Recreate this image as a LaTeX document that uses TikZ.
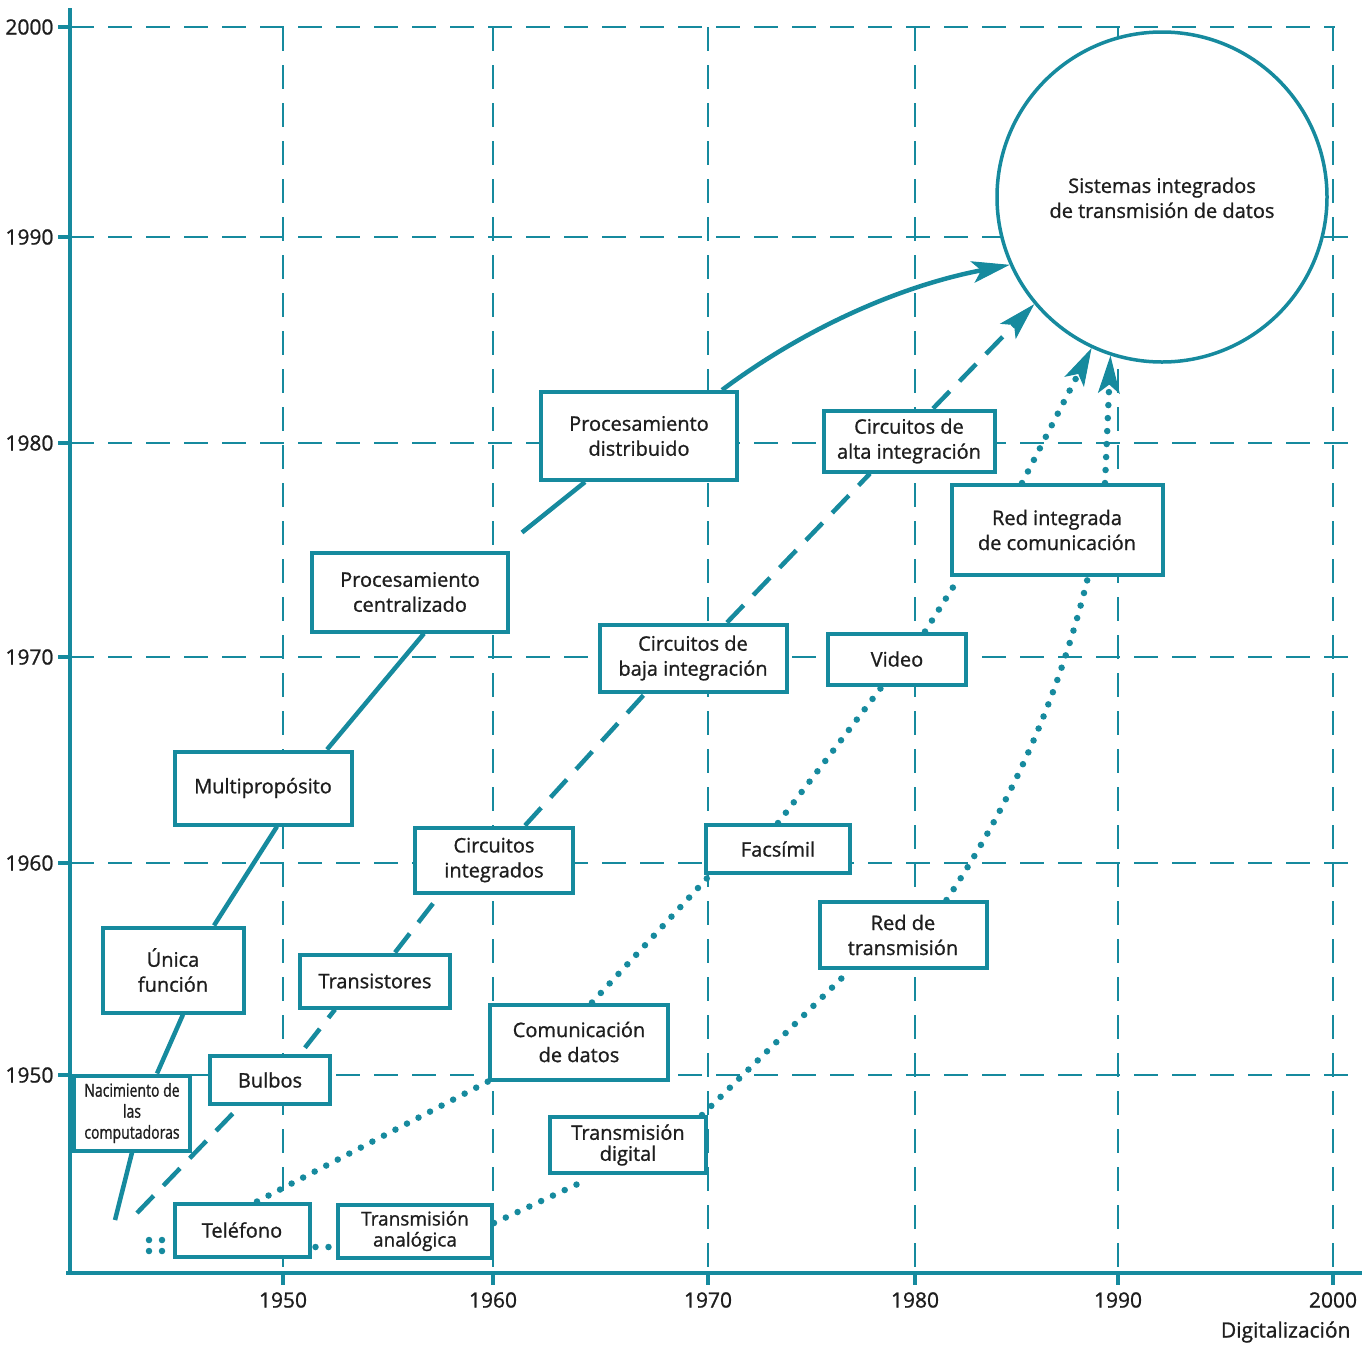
\documentclass[tikz,border=0pt]{standalone}
\usepackage{fontspec}
\setmainfont{Open Sans}[FakeBold=1]
\newfontfamily\narrowfont[FakeStretch=0.78, FakeBold=1]{Open Sans}
\usetikzlibrary{arrows.meta}
\definecolor{chartline}{RGB}{22,138,158}
\definecolor{chartink}{RGB}{30,30,30}

\begin{document}
\begin{tikzpicture}[x=1pt, y=-1pt]
    \tikzstyle{every node} = [align=center, text=chartink, font=\fontsize{20}{25}\selectfont]
    \tikzstyle{box} = [draw=chartline, line width=4pt, fill=white, inner sep=0pt]
    \tikzstyle{grid line} = [chartline, line width=2.8pt, dash pattern=on 24pt off 14pt]
    \tikzstyle{axis} = [chartline, line width=4pt]
    \tikzstyle{computer} = [chartline, line width=4.5pt]
    \tikzstyle{circuit} = [chartline, line width=4.5pt, dash pattern=on 24pt off 14pt]
    \tikzstyle{comm} = [chartline, line width=6.5pt, line cap=round, dash pattern=on 0pt off 13pt]
    \tikzstyle{tip} = [-{Stealth[length=38pt, width=22pt, inset=9pt, line width=1pt]}]
    \tikzstyle{year} = [font=\fontsize{21}{24}\selectfont]

    \useasboundingbox (0,0) rectangle (1365,1345);

    \foreach \yr/\xx/\yy/\xend in {1950/283/1075/1360, 1960/493/863/1360, 1970/708/657/1360,
                                  1980/915/443/1360, 1990/1118/237/1352, 2000/1333/27/1335} {
        \draw [grid line] (\xx,27) -- (\xx,1273);
        \draw [grid line] (70,\yy) -- (\xend,\yy);
        \draw [axis] (\xx,1273) -- (\xx,1285);
        \draw [axis] (58,\yy) -- (70,\yy);
        \node [year, anchor=east] (left\yr) at (57,\yy) {\yr};
        \node [year] (low\yr) at (\xx,1300) {\yr};
    }
    \draw [axis] (70,8) -- (70,1275);
    \draw [axis] (66,1273) -- (1362,1273);
    \node [year, anchor=east] (digital) at (1354,1332) {Digitalización};

    \node [box, minimum width=116pt, minimum height=75pt, font=\narrowfont\fontsize{18}{21}\selectfont] (nac) at (132,1113) {Nacimiento de\\las\\computadoras};
    \node [box, minimum width=120pt, minimum height=48pt] (bulbos) at (270,1080) {Bulbos};
    \node [box, minimum width=135pt, minimum height=53pt] (telefono) at (242,1230) {Teléfono};
    \node [box, minimum width=154pt, minimum height=53pt, font=\fontsize{19}{21}\selectfont] (tanalog) at (415,1231) {Transmisión\\analógica};
    \node [box, minimum width=141pt, minimum height=85pt] (unica) at (173,970) {Única\\función};
    \node [box, minimum width=150pt, minimum height=53pt] (transistores) at (375,981) {Transistores};
    \node [box, minimum width=177pt, minimum height=73pt] (multi) at (263,788) {Multipropósito};
    \node [box, minimum width=158pt, minimum height=65pt] (cintegrados) at (494,860) {Circuitos\\integrados};
    \node [box, minimum width=196pt, minimum height=79pt] (pcentral) at (410,592) {Procesamiento\\centralizado};
    \node [box, minimum width=178pt, minimum height=75pt] (comdatos) at (579,1042) {Comunicación\\de datos};
    \node [box, minimum width=156pt, minimum height=56pt, font=\fontsize{20}{21}\selectfont] (tdigital) at (628,1145) {Transmisión\\digital};
    \node [box, minimum width=187pt, minimum height=67pt] (cbaja) at (693,658) {Circuitos de\\baja integración};
    \node [box, minimum width=196pt, minimum height=88pt] (pdistrib) at (639,436) {Procesamiento\\distribuido};
    \node [box, minimum width=171pt, minimum height=61pt] (calta) at (909,441) {Circuitos de\\alta integración};
    \node [box, minimum width=144pt, minimum height=48pt] (facsimil) at (778,849) {Facsímil};
    \node [box, minimum width=138pt, minimum height=51pt] (video) at (897,659) {Video};
    \node [box, minimum width=167pt, minimum height=66pt] (redtrans) at (903,935) {Red de\\transmisión};
    \node [box, minimum width=211pt, minimum height=90pt] (redint) at (1057,530) {Red integrada\\de comunicación};
    \node [box, circle, line width=3.5pt, minimum size=330pt] (sistemas) at (1162,197) {\\[-8pt]Sistemas integrados\\de transmisión de datos};

    \coordinate (origin computer) at (115,1220);
    \draw [computer] (origin computer) -- (nac.south);
    \draw [computer] ([xshift=25pt]nac.north) -- ([xshift=10pt]unica.south);
    \draw [computer] ([xshift=41pt]unica.north) -- ([xshift=14pt]multi.south);
    \draw [computer] ([xshift=64pt]multi.north) -- ([xshift=14pt]pcentral.south);
    \draw [computer] ([shift={(12pt,18pt)}]pcentral.north east) -- ([xshift=-54pt]pdistrib.south);
    \draw [computer, tip] ([xshift=-17pt]pdistrib.north east) .. controls (805,328) and (900,286) .. (sistemas.204);

    \coordinate (origin circuit) at (137,1213);
    \draw [circuit] (origin circuit) -- ([xshift=-30pt]bulbos.south);
    \draw [circuit, shorten <=8pt] ([xshift=30pt]bulbos.north) -- ([xshift=-40pt]transistores.south);
    \draw [circuit] ([xshift=20pt]transistores.north) -- ([xshift=-54pt]cintegrados.south);
    \draw [circuit] ([xshift=31pt]cintegrados.north) -- ([xshift=-48pt]cbaja.south);
    \draw [circuit] ([xshift=34pt]cbaja.north) -- ([xshift=-39pt]calta.south);
    \draw [circuit, tip] ([xshift=24pt]calta.north) -- (sistemas.220);

    \coordinate (origin phone a) at (149,1240);
    \coordinate (origin phone b) at (149,1251);
    \draw [comm, shorten >=6pt] (origin phone a) -- ([yshift=-10pt]telefono.west);
    \draw [comm, shorten >=6pt] (origin phone b) -- ([yshift=-21pt]telefono.west);
    \draw [comm] ([xshift=15pt]telefono.north) -- (comdatos.south west);
    \draw [comm, shorten <=4pt, shorten >=4pt] ([yshift=-17pt]telefono.east) -- ([yshift=-16pt]tanalog.west);
    \draw [comm, shorten >=12pt] ([yshift=8pt]tanalog.east) -- ([xshift=-31pt]tdigital.south);
    \draw [comm] ([xshift=13pt]comdatos.north) -- ([xshift=6pt]facsimil.south west);
    \draw [comm] ([xshift=-6pt]tdigital.north east) -- ([xshift=-53pt]redtrans.south);
    \draw [comm] (facsimil.north) -- ([xshift=-15pt]video.south);
    \draw [comm] ([xshift=28pt]video.north) -- ([xshift=10pt]redint.south west);
    \draw [comm] ([xshift=-42pt]redtrans.north east) .. controls (1010,805) and (1058,700) .. ([xshift=31pt]redint.south);
    \draw [comm, tip] ([xshift=-35pt]redint.north) -- (sistemas.245);
    \draw [comm, tip] ([xshift=48pt]redint.north) -- (sistemas.252);
\end{tikzpicture}
\end{document}
